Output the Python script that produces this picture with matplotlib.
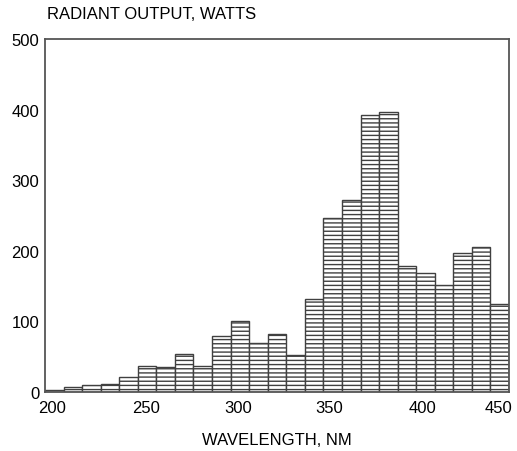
import matplotlib
matplotlib.use("Agg")
from matplotlib import pyplot as plt
from matplotlib.transforms import ScaledTranslation

# 10 nm wavelength bins, left edges
bin_starts = [200, 210, 220, 230, 240, 250, 260, 270, 280, 290,
              300, 310, 320, 330, 340, 350, 360, 370, 380, 390,
              400, 410, 420, 430, 440]
watts = [3, 7, 10, 12, 21, 37, 35, 54, 37, 79,
         101, 70, 82, 53, 132, 247, 272, 392, 397, 179,
         168, 152, 197, 205, 124]
x_ticks = [200, 250, 300, 350, 400, 450]
y_ticks = [0, 100, 200, 300, 400, 500]

plt.rcParams['font.family'] = ['Liberation Sans', 'DejaVu Sans']
plt.rcParams['hatch.linewidth'] = 1.0
plt.rcParams['hatch.color'] = '#404040'

fig = plt.figure(figsize=(5.17, 4.52), dpi=100)
ax = fig.add_axes([0.087, 0.1305, 0.8975, 0.781])

ax.bar(bin_starts, watts, width=10, align='edge', color='white',
       edgecolor='#404040', linewidth=1.0, hatch='----')

ax.set_xlim(200, 450)
ax.set_ylim(0, 500)
ax.set_xticks(x_ticks)
ax.set_yticks(y_ticks)
ax.tick_params(length=0, labelsize=12, colors='black')
ax.tick_params(axis='x', pad=6)
ax.tick_params(axis='y', pad=4)
for s in ax.spines.values():
    s.set_color('#555555')
    s.set_linewidth(1.3)

# labels sit a bit off their ticks in the original
shifts = [7, 8, 8, 6, 6, -10]
for lab, dx in zip(ax.get_xticklabels(), shifts):
    lab.set_transform(lab.get_transform() + ScaledTranslation(dx / 100, 0, fig.dpi_scale_trans))

ax.set_xlabel("WAVELENGTH, NM", fontsize=12, labelpad=12)
fig.text(0.091, 0.969, "RADIANT OUTPUT, WATTS", fontsize=12,
         ha='left', va='center')

fig.savefig("out.png", dpi=100)
